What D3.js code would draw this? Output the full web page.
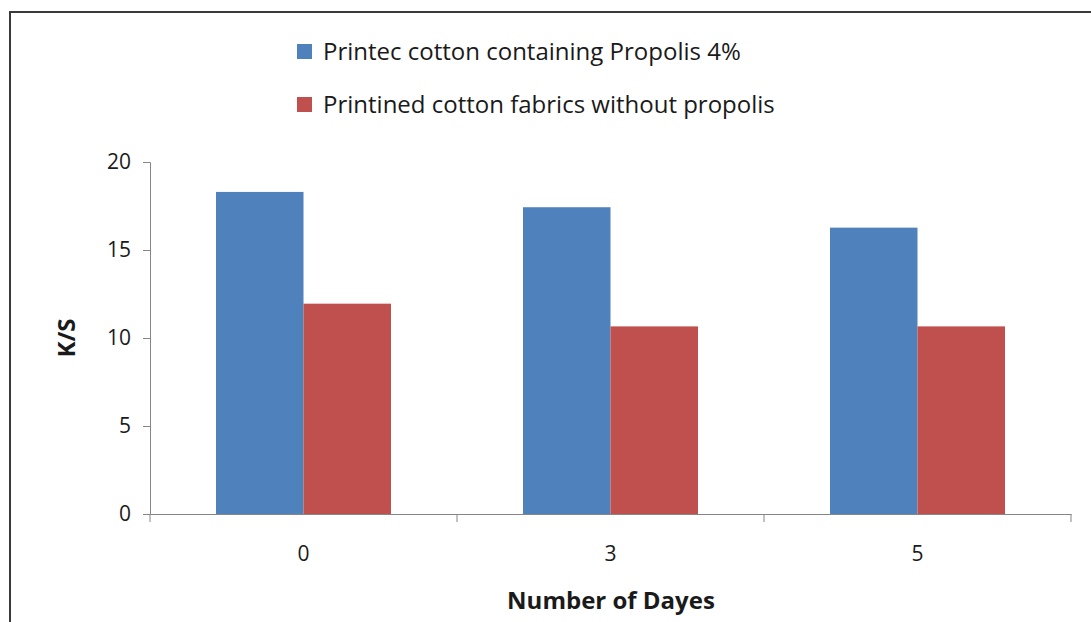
<!DOCTYPE html>
<html><head><meta charset="utf-8">
<script src="https://cdn.jsdelivr.net/npm/d3@7"></script>
<style>body{margin:0;background:#fff}svg{display:block}text{font-family:"Open Sans",sans-serif;fill:#1a1a1a}</style>
</head><body><svg id="c" width="1091" height="622"></svg>
<script>
const categories = ["0","3","5"];
const seriesNames = ["Printec cotton containing Propolis 4%","Printined cotton fabrics without propolis"];
const propolis = [18.3, 17.43, 16.27];
const withoutPropolis = [11.95, 10.66, 10.66];
const yTicks = [0,5,10,15,20];
const colors = ["#4F81BD","#C0504D"];
const seriesValues = [propolis, withoutPropolis];

const svg = d3.select("#c");
// frame
svg.append("rect").attr("x",10).attr("y",12).attr("width",1100).attr("height",640)
  .attr("fill","none").attr("stroke","#3a3a3a").attr("stroke-width",2);

const x0 = d3.scaleBand().domain(categories).range([150,1071]);
const bw = x0.bandwidth();
const x1 = d3.scaleBand().domain(d3.range(seriesNames.length)).range([bw*0.215, bw*0.785]);
const y = d3.scaleLinear().domain([0,20]).range([514,162]);

// bars
categories.forEach((c,i)=>{
  seriesValues.forEach((vals,s)=>{
    svg.append("rect").attr("x",x0(c)+x1(s)).attr("y",y(vals[i]))
      .attr("width",x1.bandwidth()).attr("height",y(0)-y(vals[i])).attr("fill",colors[s]);
  });
});

// y axis
const yAxis = svg.append("g").attr("transform","translate(150,0)")
  .call(d3.axisLeft(y).tickValues(yTicks).tickSize(7).tickPadding(12));
yAxis.select(".domain").attr("stroke","#868686");
yAxis.selectAll(".tick line").attr("stroke","#868686");
yAxis.selectAll(".tick text").attr("font-size",21).attr("font-family","Open Sans").attr("fill","#1a1a1a");

// x axis
const xAxis = svg.append("g").attr("transform","translate(0,514)")
  .call(d3.axisBottom(x0).tickSize(0).tickPadding(32));
xAxis.select(".domain").attr("stroke","#868686");
xAxis.selectAll(".tick text").attr("font-size",21).attr("font-family","Open Sans").attr("fill","#1a1a1a");
const bounds = x0.domain().map(d=>x0(d)).concat([x0.range()[1]]);
svg.append("g").selectAll("line").data(bounds).join("line")
  .attr("x1",d=>d).attr("x2",d=>d).attr("y1",514).attr("y2",522).attr("stroke","#868686");

// axis titles
svg.append("text").attr("x",611).attr("y",609).attr("text-anchor","middle")
  .attr("font-size",24).attr("font-weight","bold").text("Number of Dayes");
svg.append("text").attr("transform","translate(75,338) rotate(-90)").attr("text-anchor","middle")
  .attr("font-size",24).attr("font-weight","bold").text("K/S");

// legend
const legY = [51, 104];
seriesNames.forEach((n,s)=>{
  svg.append("rect").attr("x",297).attr("y",legY[s]-7).attr("width",15).attr("height",15).attr("fill",colors[s]);
  svg.append("text").attr("x",323).attr("y",legY[s]+9).attr("font-size",24).text(n);
});
</script></body></html>
